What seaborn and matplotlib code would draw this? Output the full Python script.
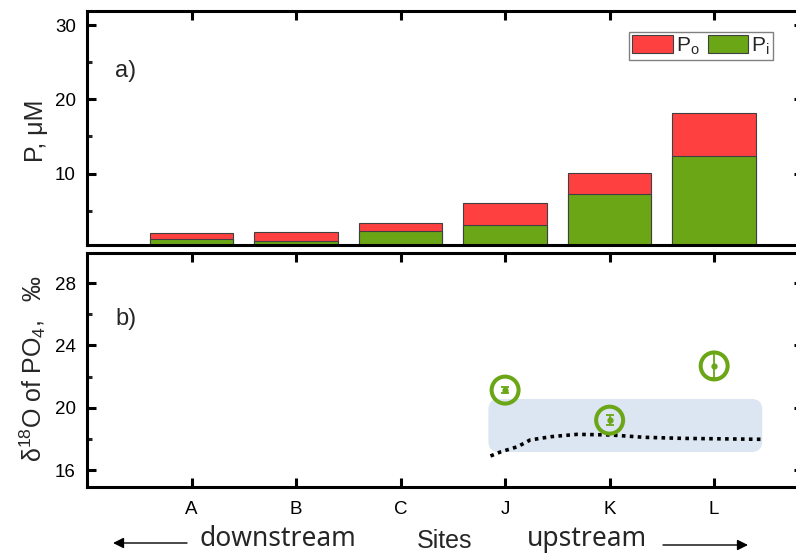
import numpy as np
import pandas as pd
import matplotlib
matplotlib.use("Agg")
import matplotlib.pyplot as plt
import seaborn as sns
from matplotlib.patches import Patch, FancyBboxPatch
from matplotlib.ticker import FixedLocator

# ---------------- data ----------------
sites = ["A", "B", "C", "J", "K", "L"]
p_inorganic = [1.17, 0.86, 2.2, 3.05, 7.23, 12.34]   # Pi, uM
p_organic = [0.77, 1.25, 1.1, 3.0, 2.9, 5.75]        # Po, uM

d18o_sites = ["J", "K", "L"]
d18o_values = [21.13, 19.2, 22.68]
d18o_err = [0.2, 0.3, 0.8]

curve_x = [2.86, 2.96, 3.12, 3.24, 3.44, 3.69, 4.01, 4.33, 4.71, 5.47]
curve_y = [16.9, 17.17, 17.5, 17.93, 18.14, 18.29, 18.25, 18.1, 18.03, 17.97]

band_x = [2.84, 5.46]
band_y = [17.16, 20.56]

RED = "#ff4040"
GREEN = "#6aa616"
BAND = "#dce6f2"

sns.set_style("ticks")
plt.rcParams["font.family"] = ["Liberation Sans", "DejaVu Sans"]
plt.rcParams["mathtext.fontset"] = "custom"
plt.rcParams["mathtext.rm"] = "Liberation Sans"
plt.rcParams["mathtext.it"] = "Liberation Sans"

fig = plt.figure(figsize=(7.96, 5.54), dpi=100)
W, H = 796.0, 554.0
L_px, R_px = 87, 803
ax1 = fig.add_axes([L_px / W, 1 - 245 / H, (R_px - L_px) / W, 234 / H])
ax2 = fig.add_axes([L_px / W, 1 - 487 / H, (R_px - L_px) / W, 234 / H])

total = [a + b for a, b in zip(p_inorganic, p_organic)]
df = pd.DataFrame({"site": sites, "total": total, "pi": p_inorganic})

sns.barplot(data=df, x="site", y="total", ax=ax1, color=RED, saturation=1,
            width=0.8, edgecolor="#404040", linewidth=0.8)
sns.barplot(data=df, x="site", y="pi", ax=ax1, color=GREEN, saturation=1,
            width=0.8, edgecolor="#404040", linewidth=0.8)

ax1.set_xlim(-1, 5.85)
ax1.set_ylim(0.37, 31.89)
ax1.yaxis.set_major_locator(FixedLocator([10, 20, 30]))
ax1.yaxis.set_minor_locator(FixedLocator([5, 15, 25]))
ax1.set_xlabel("")
ax1.set_ylabel("P, \u03bcM", fontsize=18)
ax1.yaxis.set_label_coords(-0.054, 0.49)
ax1.text(0.054, 0.745, "a)", transform=ax1.transAxes, fontsize=17,
         ha="center", va="center")

leg = ax1.legend(handles=[Patch(facecolor=RED, edgecolor="#404040", lw=0.8),
                          Patch(facecolor=GREEN, edgecolor="#404040", lw=0.8)],
                 labels=[r"$\mathregular{P_o}$", r"$\mathregular{P_i}$"],
                 ncol=2, loc="upper right",
                 bbox_to_anchor=(773 / W, 1 - 32 / H), bbox_transform=fig.transFigure,
                 fontsize=15, frameon=True, fancybox=False, framealpha=1,
                 edgecolor="#808080", handlelength=1.95, handleheight=0.95,
                 handletextpad=0.15, columnspacing=0.4, borderpad=0.15,
                 borderaxespad=0)
leg.get_frame().set_linewidth(1.0)

# ---------------- bottom panel ----------------
band = FancyBboxPatch((band_x[0], band_y[0]), band_x[1] - band_x[0], band_y[1] - band_y[0],
                      boxstyle="round,pad=0,rounding_size=0.1", mutation_aspect=6.7,
                      transform=ax2.transData, facecolor=BAND, edgecolor="none", zorder=1)
ax2.add_patch(band)

sns.lineplot(x=curve_x, y=curve_y, ax=ax2, color="black", linestyle=(0, (1, 1.2)),
             linewidth=2.6, sort=False, zorder=2)

xpos = [sites.index(s) for s in d18o_sites]
ax2.errorbar(xpos, d18o_values, yerr=d18o_err, fmt="o", ms=3.5, color=GREEN,
             ecolor=GREEN, elinewidth=1.3, capsize=3, capthick=1.3, zorder=3)
sns.scatterplot(x=xpos, y=d18o_values, ax=ax2, marker="o", s=377,
                facecolor="none", edgecolor=GREEN, linewidth=2.9, zorder=4)

ax2.set_xlim(-1, 5.85)
ax2.set_ylim(14.91, 29.93)
ax2.set_xticks(range(len(sites)))
ax2.set_xticklabels(sites)
ax2.yaxis.set_major_locator(FixedLocator([16, 20, 24, 28]))
ax2.yaxis.set_minor_locator(FixedLocator([18, 22, 26]))
ax2.set_ylabel(r"$\mathregular{\delta^{18}O\ of\ PO_{4},}$  " + "\u2030", fontsize=18)
ax2.yaxis.set_label_coords(-0.054, 0.505)
ax2.text(0.054, 0.72, "b)", transform=ax2.transAxes, fontsize=17,
         ha="center", va="center")

for ax in (ax1, ax2):
    for sp in ax.spines.values():
        sp.set_linewidth(2.2)
        sp.set_color("black")
    ax.set_xticks(range(len(sites)))
    ax.tick_params(axis="both", which="major", direction="in", length=6.5, width=2.2,
                   top=True, right=True, labelsize=13.5, pad=8, colors="black")
    ax.tick_params(axis="x", which="major", pad=10)
    ax.tick_params(axis="y", which="minor", direction="in", length=3.8, width=2.2,
                   left=True, right=False)
    ax.tick_params(axis="x", which="minor", bottom=False, top=False)
ax1.tick_params(axis="x", labelbottom=False)

# ---------------- bottom annotations ----------------
fig.text(278 / W, 1 - 539 / H, "downstream", family=["Noto Sans", "DejaVu Sans"],
         fontsize=19, ha="center", va="center")
fig.text(445 / W, 1 - 541 / H, "Sites", fontsize=18, ha="center", va="center")
fig.text(587 / W, 1 - 539 / H, "upstream", family=["Noto Sans", "DejaVu Sans"],
         fontsize=19, ha="center", va="center")
ax2.annotate("", xy=(113, H - 543), xytext=(187, H - 543), xycoords="figure pixels",
             textcoords="figure pixels", annotation_clip=False,
             arrowprops=dict(arrowstyle="-|>", lw=1.0, color="black", mutation_scale=16,
                             shrinkA=0, shrinkB=0))
ax2.annotate("", xy=(748, H - 545), xytext=(663, H - 545), xycoords="figure pixels",
             textcoords="figure pixels", annotation_clip=False,
             arrowprops=dict(arrowstyle="-|>", lw=1.0, color="black", mutation_scale=16,
                             shrinkA=0, shrinkB=0))

fig.savefig("out.png", dpi=100)
